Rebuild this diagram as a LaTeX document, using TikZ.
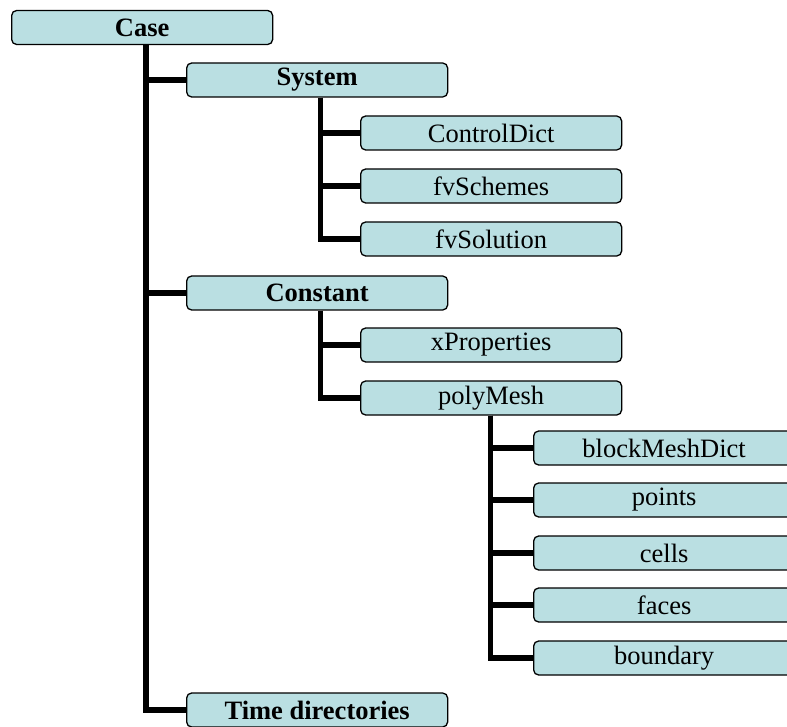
\documentclass[tikz,border=0pt]{standalone}
\usepackage{fontspec}
\setmainfont{Liberation Serif}
\definecolor{boxfill}{HTML}{BADFE2}
\tikzset{
  item/.style={draw=black, line width=1.3pt, fill=boxfill, rounded corners=5pt,
    minimum width=261pt, minimum height=34pt, inner sep=0pt, font=\fontsize{26.5}{28}\selectfont, anchor=west},
  head/.style={item, font=\fontsize{26.5}{28}\selectfont\bfseries},
  link/.style={line width=5.5pt, line cap=butt, line join=miter}
}
\begin{document}
\begin{tikzpicture}[x=1pt,y=-1pt]
\useasboundingbox (0,0) rectangle (787,727);
\node[head] (case) at (11,27.5) {Case};
\node[head] (sys) at (186,80) {System};
\node[item] (ctrl) at (360,133) {ControlDict};
\node[item] (fvsc) at (360,186) {fvSchemes};
\node[item] (fvso) at (360,239) {fvSolution};
\node[head] (const) at (186,293) {Constant};
\node[item] (xprop) at (360,345) {xProperties};
\node[item] (poly) at (360,398) {polyMesh};
\node[item] (bmd) at (533,448) {blockMeshDict};
\node[item] (pts) at (533,500) {points};
\node[item] (cells) at (533,553) {cells};
\node[item] (faces) at (533,605) {faces};
\node[item] (bnd) at (533,658) {boundary};
\node[head] (time) at (186,710) {Time directories};
% connectors
\coordinate (c0) at ([xshift=4pt]case.south);
\draw[link] (c0) |- (sys.west);
\draw[link] (c0) |- (const.west);
\draw[link] (c0) |- (time.west);
\coordinate (s0) at ([xshift=-128pt]sys.south east);
\draw[link] (s0) |- (ctrl.west);
\draw[link] (s0) |- (fvsc.west);
\draw[link] (s0) |- (fvso.west);
\coordinate (k0) at ([xshift=-128pt]const.south east);
\draw[link] (k0) |- (xprop.west);
\draw[link] (k0) |- (poly.west);
\coordinate (p0) at ([xshift=-132pt]poly.south east);
\draw[link] (p0) |- (bmd.west);
\draw[link] (p0) |- (pts.west);
\draw[link] (p0) |- (cells.west);
\draw[link] (p0) |- (faces.west);
\draw[link] (p0) |- (bnd.west);
\end{tikzpicture}
\end{document}
